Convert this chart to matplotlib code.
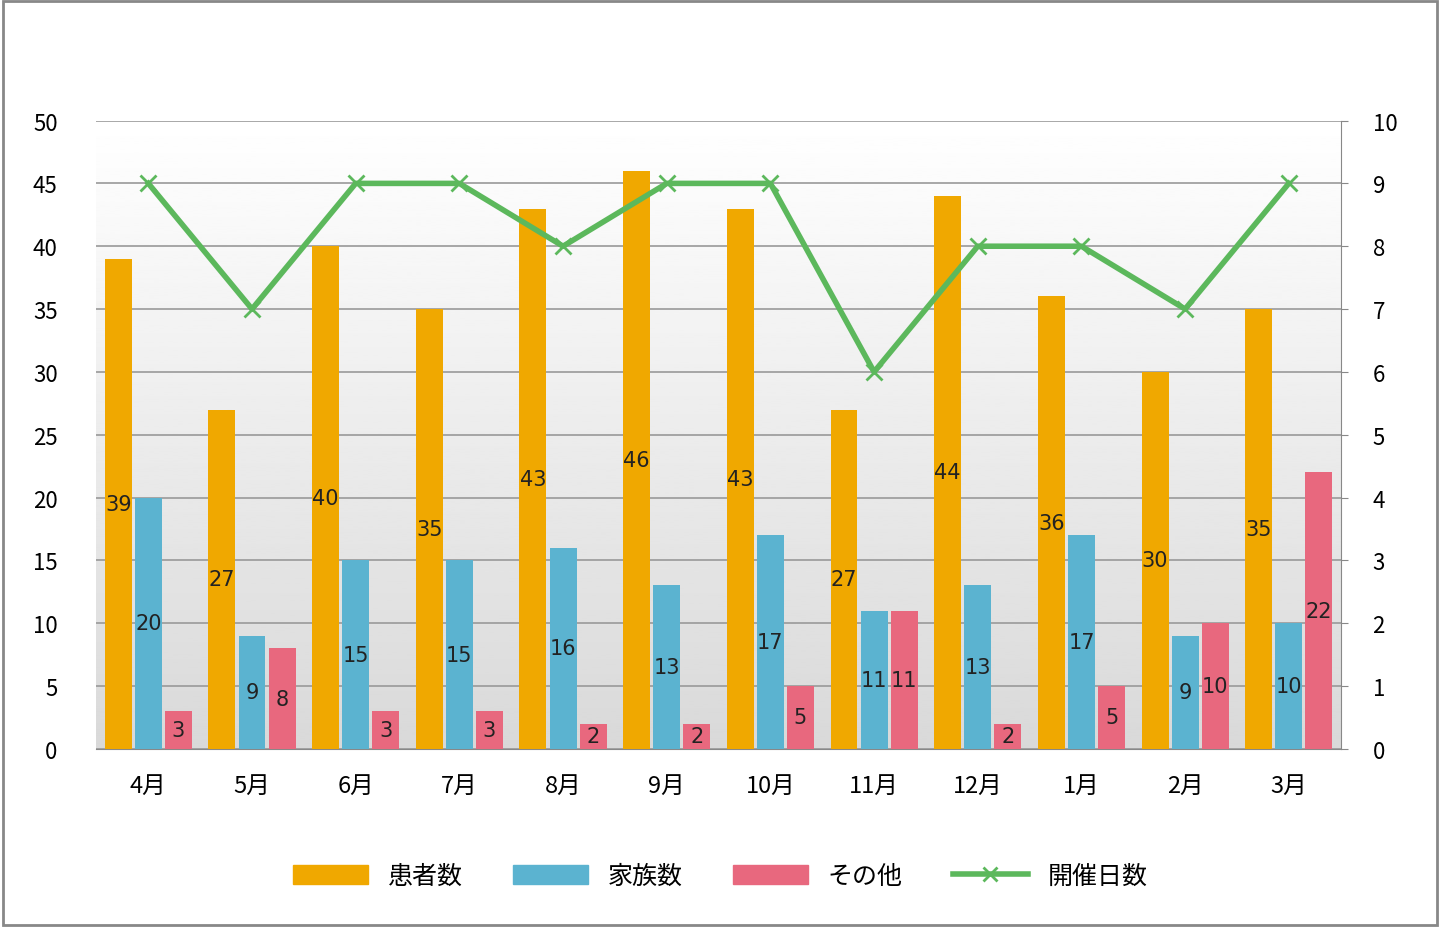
import numpy as np
import matplotlib.pyplot as plt
from matplotlib.lines import Line2D
from matplotlib.patches import Patch

plt.rcParams['font.family'] = ['Noto Sans CJK JP', 'DejaVu Sans']

months = ['4月', '5月', '6月', '7月', '8月', '9月', '10月', '11月', '12月', '1月', '2月', '3月']
patients = [39, 27, 40, 35, 43, 46, 43, 27, 44, 36, 30, 35]
family = [20, 9, 15, 15, 16, 13, 17, 11, 13, 17, 9, 10]
others = [3, 8, 3, 3, 2, 2, 5, 11, 2, 5, 10, 22]
days = [9, 7, 9, 9, 8, 9, 9, 6, 8, 8, 7, 9]

ORANGE = '#F0A800'
BLUE = '#5BB3D0'
PINK = '#E8687E'
GREEN = '#5CB85C'

fig = plt.figure(figsize=(14.4, 9.28), dpi=100)
ax = fig.add_axes([0.067, 0.192, 0.864, 0.677])
x = np.arange(len(months))
ax.set_xlim(-0.5, len(months) - 0.5)
ax.set_ylim(0, 50)

# gradient background
grad = np.linspace(1.0, 0.85, 256).reshape(-1, 1)
ax.imshow(grad, extent=(-0.5, len(months) - 0.5, 0, 50), aspect='auto',
          cmap='gray', vmin=0, vmax=1, origin='upper', zorder=0)

w = 0.26
off = 0.29
for vals, dx, col in [(patients, -off, ORANGE), (family, 0, BLUE), (others, off, PINK)]:
    ax.bar(x + dx, vals, width=w, color=col, zorder=3)
    for xi, v in zip(x + dx, vals):
        ax.text(xi, v / 2, str(v), ha='center', va='center', fontsize=15,
                color='#222222', zorder=5, fontfamily='DejaVu Sans')

ax.set_yticks(range(0, 51, 5))
ax.grid(axis='y', color='#999999', linewidth=1.2, zorder=1)
ax.set_xticks(x)
ax.set_xticklabels(months, fontsize=17)
ax.tick_params(axis='y', labelsize=16, length=0, pad=28)
ax.tick_params(axis='x', length=0, pad=18)
for s in ['top', 'right', 'left']:
    ax.spines[s].set_visible(False)
ax.spines['bottom'].set_color('#888888')

ax2 = ax.twinx()
ax2.set_ylim(0, 10)
ax2.set_yticks(range(0, 11))
ax2.plot(x, days, color=GREEN, linewidth=4, marker='x', markersize=12,
         markeredgewidth=2, zorder=6)
ax2.tick_params(axis='y', labelsize=16, length=5, pad=18, color='#888888')
for s in ['top', 'left', 'bottom']:
    ax2.spines[s].set_visible(False)
ax2.spines['right'].set_color('#888888')

handles = [Patch(color=ORANGE, label='患者数'), Patch(color=BLUE, label='家族数'),
           Patch(color=PINK, label='その他'),
           Line2D([], [], color=GREEN, linewidth=4, marker='x', markersize=10,
                  markeredgewidth=2, label='開催日数')]
fig.legend(handles=handles, loc='center', bbox_to_anchor=(0.5, 0.055), ncol=4,
           frameon=False, fontsize=18, handlelength=3, handleheight=0.8, columnspacing=2)

fig.patches.append(plt.Rectangle((0.002, 0.002), 0.996, 0.996, transform=fig.transFigure,
                                 fill=False, edgecolor='#888888', linewidth=2))
fig.savefig('out.png', dpi=100)
